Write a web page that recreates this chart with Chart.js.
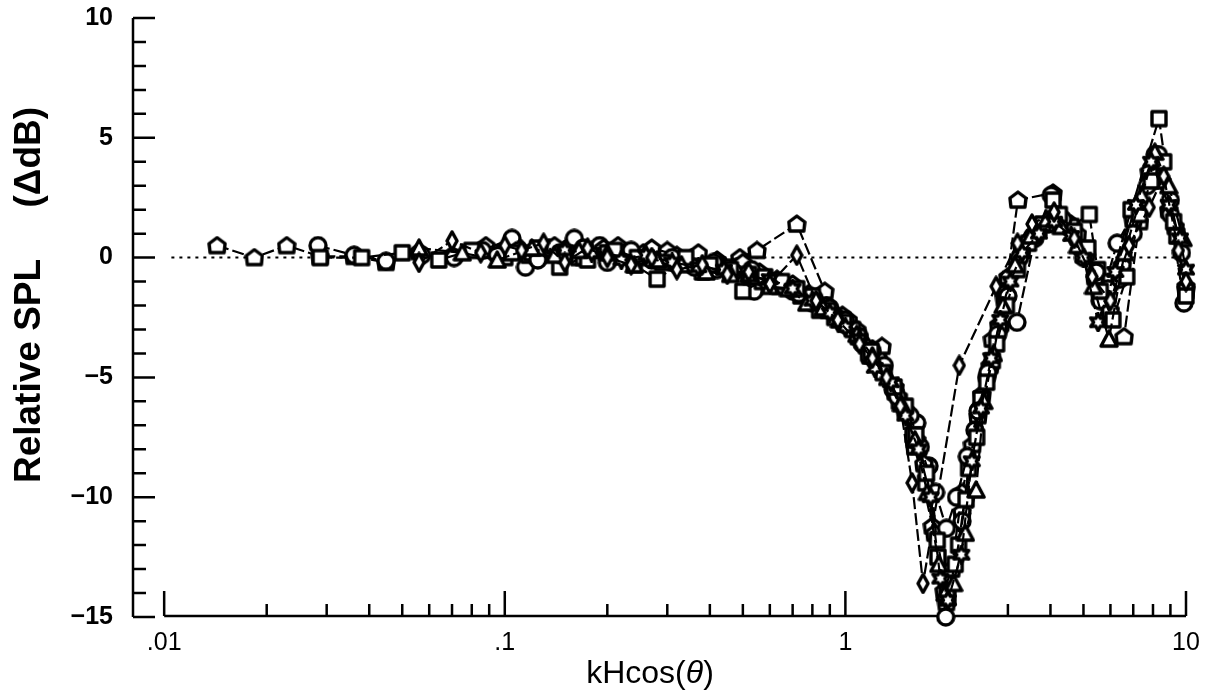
<!DOCTYPE html>
<html>
<head>
<meta charset="utf-8">
<script src="https://cdn.jsdelivr.net/npm/chart.js@4"></script>
<style>
  body { margin: 0; background: #fff; }
  #wrap { width: 1208px; height: 696px; }
</style>
</head>
<body>
<div id="wrap"><canvas id="spl" width="1208" height="696"></canvas></div>
<script>
// axis ticks
const xTicks = [0.01, 0.1, 1, 10];
const xTickLabels = ['.01', '.1', '1', '10'];
const yTicks = [-15, -10, -5, 0, 5, 10];

// series, [kHcos(theta), relative SPL dB]
const pentagonA = [[0.0143,0.5],[0.0184,0.0],[0.0229,0.5],[0.0287,0.05],[0.0361,0.05],[0.0448,-0.2],[0.056,0.25],[0.070,0.1],[0.088,0.5],[0.108,0.5],[0.128,0.2],[0.152,0.4],[0.18,0.3],[0.215,0.5],[0.255,0.2],[0.30,0.3],[0.355,0.0],[0.42,-0.1],[0.49,0.0],[0.55,0.3],[0.72,1.4],[0.87,-1.4],[1.02,-2.6],[1.2,-3.8],[1.4,-5.6],[1.6,-7.9],[1.8,-11.2],[1.98,-14.4],[2.2,-10.6],[2.45,-6.6],[2.7,-3.4],[2.93,-1.7],[3.21,2.4],[4.07,2.7],[4.6,1.4],[5.1,0.2],[5.6,-1.6],[6.58,-3.3],[7.3,1.5],[8.0,3.8],[8.9,2.0],[10,-1.2]];
const circleA = [[0.0283,0.5],[0.0361,0.1],[0.0448,-0.15],[0.057,0.1],[0.071,0.0],[0.086,0.3],[0.105,0.8],[0.115,-0.4],[0.135,0.4],[0.16,0.8],[0.19,0.5],[0.225,0.2],[0.265,0.1],[0.31,-0.2],[0.36,-0.3],[0.42,-0.5],[0.48,-0.4],[0.54,-1.4],[0.62,-1.0],[0.70,-1.4],[0.80,-1.9],[0.90,-2.2],[1.0,-2.8],[1.12,-3.6],[1.25,-4.2],[1.38,-5.5],[1.52,-6.5],[1.62,-6.9],[1.76,-8.7],[1.97,-15.0],[2.2,-11.0],[2.4,-7.2],[2.6,-5.0],[2.85,-2.9],[3.19,-2.7],[3.6,0.8],[4.02,2.6],[4.5,1.3],[5.0,0.0],[5.6,-1.8],[6.28,0.6],[7.1,2.0],[8.11,4.3],[9.0,1.8],[9.86,-1.9]];
const circleB = [[0.095,0.1],[0.11,0.3],[0.125,-0.1],[0.145,0.2],[0.17,0.4],[0.2,-0.2],[0.235,0.3],[0.27,-0.1],[0.31,0.0],[0.36,-0.4],[0.41,-0.2],[0.47,-0.6],[0.53,-0.5],[0.59,-1.0],[0.66,-1.2],[0.73,-1.5],[0.81,-1.7],[0.9,-2.1],[1.0,-2.6],[1.1,-3.3],[1.2,-3.9],[1.3,-4.5],[1.42,-5.8],[1.55,-6.6],[1.66,-7.9],[1.84,-9.8],[1.98,-11.3],[2.12,-10.0],[2.28,-8.3],[2.45,-6.4],[2.62,-4.8],[2.8,-3.2],[3.0,-1.6],[3.25,0.0],[3.55,0.9],[3.95,1.4],[4.35,1.6],[4.9,0.4],[5.45,-0.6],[5.9,-1.3],[6.4,-0.9],[7.0,1.0],[7.7,3.0],[8.3,4.3],[9.0,2.4],[9.7,0.2]];
const squareA = [[0.0287,0.0],[0.038,0.0],[0.05,0.2],[0.064,-0.1],[0.08,0.3],[0.1,0.0],[0.12,0.2],[0.145,-0.4],[0.17,0.0],[0.2,0.2],[0.24,-0.3],[0.28,-0.9],[0.33,-0.2],[0.38,-0.6],[0.44,-0.4],[0.5,-1.4],[0.57,-1.0],[0.64,-1.2],[0.74,-1.6],[0.84,-2.2],[0.93,-2.5],[1.05,-3.0],[1.17,-4.0],[1.3,-4.7],[1.44,-6.0],[1.58,-7.4],[1.72,-9.4],[1.87,-12.5],[2.0,-14.2],[2.15,-12.0],[2.3,-8.8],[2.5,-5.9],[2.7,-4.3],[2.95,-1.5],[3.3,0.3],[3.7,1.2],[4.07,2.4],[4.6,1.3],[5.2,1.8],[5.5,-0.5],[6.0,-1.0],[6.9,2.0],[8.33,5.8],[9.2,1.5],[10,-1.4]];
const squareB = [[0.105,0.2],[0.125,0.4],[0.15,0.1],[0.175,-0.1],[0.21,0.3],[0.245,0.0],[0.29,-0.2],[0.34,0.0],[0.4,-0.3],[0.46,-0.5],[0.52,-0.7],[0.58,-0.8],[0.65,-1.0],[0.72,-1.3],[0.8,-1.6],[0.89,-2.2],[0.99,-2.7],[1.09,-3.3],[1.19,-3.9],[1.29,-4.8],[1.39,-5.4],[1.5,-6.2],[1.61,-7.4],[1.73,-9.0],[1.86,-11.8],[1.99,-14.0],[2.1,-12.8],[2.26,-10.1],[2.43,-7.5],[2.6,-5.2],[2.78,-3.6],[2.97,-2.0],[3.2,-0.5],[3.45,0.6],[3.8,1.4],[4.25,1.8],[4.7,1.1],[5.15,0.4],[5.6,-1.4],[6.1,-2.6],[6.7,-0.8],[7.3,1.8],[7.9,3.2],[8.6,4.0],[9.4,0.9],[10,-1.6]];
const diamondA = [[0.056,-0.2],[0.07,0.7],[0.085,0.2],[0.1,0.5],[0.112,0.3],[0.13,0.6],[0.15,-0.2],[0.175,0.4],[0.2,0.0],[0.235,-0.3],[0.27,0.0],[0.32,-0.5],[0.38,-0.3],[0.45,-0.7],[0.52,-0.6],[0.6,-1.1],[0.72,0.1],[0.82,-1.8],[0.95,-2.6],[1.1,-3.6],[1.2,-4.2],[1.32,-5.0],[1.45,-6.2],[1.57,-9.4],[1.69,-13.6],[2.16,-4.5],[2.77,-1.2],[3.2,0.6],[3.53,1.4],[4.1,1.9],[4.7,0.8],[5.3,-0.8],[6.0,-1.8],[6.8,0.5],[7.8,2.1],[8.6,3.4],[9.5,0.3],[10,-1.0]];
const triangleA = [[0.056,0.4],[0.075,0.2],[0.095,-0.1],[0.12,0.4],[0.14,0.1],[0.165,0.3],[0.2,0.2],[0.24,-0.3],[0.28,-0.1],[0.33,-0.3],[0.39,-0.6],[0.46,-0.7],[0.53,-0.8],[0.6,-1.2],[0.68,-1.3],[0.77,-1.9],[0.86,-2.1],[0.96,-2.6],[1.08,-3.2],[1.2,-4.1],[1.33,-5.0],[1.46,-6.1],[1.6,-7.6],[1.74,-9.8],[1.88,-12.8],[1.96,-14.0],[2.08,-13.6],[2.25,-11.5],[2.42,-9.7],[2.55,-6.0],[2.72,-4.0],[2.9,-2.0],[3.15,-0.3],[3.5,0.9],[3.9,1.6],[4.3,1.3],[4.8,0.5],[5.35,-1.2],[5.94,-3.4],[6.6,0.2],[7.4,2.6],[8.1,4.4],[8.9,3.0],[9.8,0.8]];
const starA = [[0.15,0.3],[0.18,0.2],[0.22,-0.1],[0.26,0.1],[0.31,-0.2],[0.37,-0.4],[0.44,-0.5],[0.52,-0.8],[0.6,-0.9],[0.7,-1.3],[0.8,-1.8],[0.9,-2.3],[1.0,-2.9],[1.1,-3.4],[1.22,-4.6],[1.36,-5.2],[1.5,-6.6],[1.64,-8.0],[1.78,-10.0],[1.9,-13.4],[2.0,-14.3],[2.19,-12.4],[2.35,-8.5],[2.5,-6.3],[2.68,-4.2],[2.85,-2.6],[3.05,-1.0],[3.3,0.2],[3.7,1.0],[4.1,1.5],[4.6,0.9],[5.0,0.0],[5.52,-2.7],[6.2,-0.6],[7.13,2.2],[7.9,4.0],[8.9,2.2],[9.6,0.8],[10,-0.5]];
const pentagonB = [[0.1,0.3],[0.118,0.1],[0.14,0.5],[0.165,0.0],[0.195,0.4],[0.23,0.1],[0.27,0.4],[0.32,0.1],[0.37,0.2],[0.43,-0.3],[0.5,-0.2],[0.56,-0.6],[0.63,-0.9],[0.7,-1.1],[0.78,-1.5],[0.88,-2.0],[0.98,-2.4],[1.08,-3.0],[1.18,-4.1],[1.28,-3.7],[1.4,-5.4],[1.5,-6.4],[1.62,-7.6],[1.7,-8.6],[1.83,-11.5],[1.95,-13.9],[2.05,-13.0],[2.2,-9.8],[2.36,-7.8],[2.52,-5.7],[2.66,-4.5],[2.82,-2.8],[3.0,-0.8],[3.3,0.5],[3.68,1.3],[4.2,1.7],[4.8,1.0],[5.4,-0.8],[6.0,-2.2],[6.5,-0.3],[7.0,1.6],[7.8,3.6],[8.5,3.2],[9.3,1.3],[10,-1.3]];
const zeroLine = [[0.0105,0],[10,0]];

// hollow marker images, drawn heavy like the scanned original
function marker(kind) {
    const c = document.createElement('canvas');
    const size = kind === 'diamond' ? [14, 22] : [20, 20];
    c.width = size[0]; c.height = size[1];
    const g = c.getContext('2d');
    const w = size[0], h = size[1], cx = w / 2, cy = h / 2;
    g.lineWidth = 3.4;
    g.lineJoin = 'round';
    g.strokeStyle = '#000';
    g.fillStyle = '#fff';
    g.beginPath();
    if (kind === 'circle') {
        g.arc(cx, cy, 8, 0, Math.PI * 2);
    } else if (kind === 'square') {
        g.rect(3, 3, 14, 14);
    } else if (kind === 'diamond') {
        g.moveTo(cx, 2); g.lineTo(w - 2, cy); g.lineTo(cx, h - 2); g.lineTo(2, cy); g.closePath();
    } else if (kind === 'triangle') {
        g.moveTo(cx, 2); g.lineTo(w - 2, h - 3); g.lineTo(2, h - 3); g.closePath();
    } else if (kind === 'pentagon') {
        g.moveTo(cx, 2); g.lineTo(w - 2, 8); g.lineTo(w - 3, h - 3); g.lineTo(3, h - 3); g.lineTo(2, 8); g.closePath();
    } else if (kind === 'star') {
        for (let i = 0; i < 12; i++) {
            const r = i % 2 ? 4.5 : 8.5;
            const a = -Math.PI / 2 + i * Math.PI / 6;
            const px = cx + r * Math.cos(a), py = cy + r * Math.sin(a);
            if (i === 0) g.moveTo(px, py); else g.lineTo(px, py);
        }
        g.closePath();
    }
    g.fill();
    g.stroke();
    return c;
}

function series(pairs, kind) {
    return {
        data: pairs.map(([x, y]) => ({ x, y })),
        showLine: true,
        borderColor: '#000',
        borderWidth: 2.2,
        borderDash: [12, 4],
        pointStyle: marker(kind),
        pointRadius: 9,
        clip: false,
        order: 1
    };
}

const frame = {
    id: 'frame',
    beforeDatasetsDraw(chart) {
        const { ctx, chartArea } = chart;
        const x = chart.scales.x, y = chart.scales.y;
        const left = chartArea.left;
        ctx.save();
        ctx.strokeStyle = '#000';
        ctx.lineWidth = 2.5;
        ctx.beginPath();
        // y axis, ticks pointing inside
        ctx.moveTo(left, y.getPixelForValue(10));
        ctx.lineTo(left, y.getPixelForValue(-15));
        for (let v = -15; v <= 10; v++) {
            const py = y.getPixelForValue(v);
            ctx.moveTo(left, py);
            ctx.lineTo(left + (v % 5 === 0 ? 22 : 13), py);
        }
        // x axis starts at .01, detached from the y axis
        const base = y.getPixelForValue(-15) - 1;
        ctx.moveTo(x.getPixelForValue(0.01), base);
        ctx.lineTo(x.getPixelForValue(10), base);
        [0.01, 0.1, 1].forEach(d => {
            for (let m = 1; m <= 9; m++) {
                const px = x.getPixelForValue(d * m);
                ctx.moveTo(px, base);
                ctx.lineTo(px, base - (m === 1 ? 25 : 12));
            }
        });
        const p10 = x.getPixelForValue(10);
        ctx.moveTo(p10, base);
        ctx.lineTo(p10, base - 25);
        ctx.stroke();
        ctx.restore();
    },
    afterDraw(chart) {
        const ctx = chart.ctx;
        ctx.save();
        ctx.fillStyle = '#000';
        ctx.textBaseline = 'middle';
        // y title
        ctx.translate(30, 295);
        ctx.rotate(-Math.PI / 2);
        ctx.textAlign = 'center';
        ctx.font = 'bold 37px "Liberation Sans", Arial, sans-serif';
        ctx.fillText('Relative SPL     (\u0394dB)', 0, 0);
        ctx.restore();
        // x title with italic theta
        ctx.save();
        ctx.fillStyle = '#000';
        ctx.textBaseline = 'middle';
        ctx.textAlign = 'left';
        const fn = '32px "Liberation Sans", Arial, sans-serif';
        const fi = 'italic 32px "Liberation Sans", Arial, sans-serif';
        ctx.font = fn;
        const a = 'kHcos(', c = ')';
        const wa = ctx.measureText(a).width, wc = ctx.measureText(c).width;
        ctx.font = fi;
        const wb = ctx.measureText('\u03b8').width;
        let px = 650 - (wa + wb + wc) / 2;
        const py = 674;
        ctx.font = fn; ctx.fillText(a, px, py); px += wa;
        ctx.font = fi; ctx.fillText('\u03b8', px, py); px += wb;
        ctx.font = fn; ctx.fillText(c, px, py);
        ctx.restore();
    }
};

const dotted = {
    data: zeroLine.map(([x, y]) => ({ x, y })),
    showLine: true,
    borderColor: '#000',
    borderWidth: 2,
    borderDash: [3, 5],
    pointRadius: 0,
    order: 10
};

new Chart(document.getElementById('spl'), {
    type: 'scatter',
    data: {
        datasets: [
            dotted,
            series(diamondA, 'diamond'),
            series(starA, 'star'),
            series(triangleA, 'triangle'),
            series(squareB, 'square'),
            series(circleB, 'circle'),
            series(squareA, 'square'),
            series(pentagonB, 'pentagon'),
            series(circleA, 'circle'),
            series(pentagonA, 'pentagon')
        ]
    },
    options: {
        responsive: false,
        animation: false,
        devicePixelRatio: 1,
        layout: { padding: { left: 0, right: 22, top: 18, bottom: 0 } },
        plugins: {
            legend: { display: false },
            tooltip: { enabled: false }
        },
        scales: {
            x: {
                type: 'logarithmic',
                min: 0.0081,
                max: 10,
                grid: { display: false, drawTicks: false },
                border: { display: false },
                afterBuildTicks: s => { s.ticks = xTicks.map(v => ({ value: v })); },
                afterFit: s => { s.height = 79; s.paddingLeft = 0; s.paddingRight = 0; },
                ticks: {
                    color: '#000',
                    padding: 11,
                    maxRotation: 0,
                    autoSkip: false,
                    font: { family: '"Liberation Sans", Arial, sans-serif', size: 25 },
                    callback: v => xTickLabels[xTicks.indexOf(v)]
                }
            },
            y: {
                min: -15,
                max: 10,
                grid: { display: false, drawTicks: false },
                border: { display: false },
                afterBuildTicks: s => { s.ticks = yTicks.map(v => ({ value: v })); },
                afterFit: s => { s.width = 133; s.paddingTop = 0; s.paddingBottom = 0; },
                ticks: {
                    color: '#000',
                    padding: 20,
                    font: { family: '"Liberation Sans", Arial, sans-serif', size: 25, weight: 'bold' },
                    callback: v => v < 0 ? '\u2212' + Math.abs(v) : String(v)
                }
            }
        }
    },
    plugins: [frame]
});
</script>
</body>
</html>
